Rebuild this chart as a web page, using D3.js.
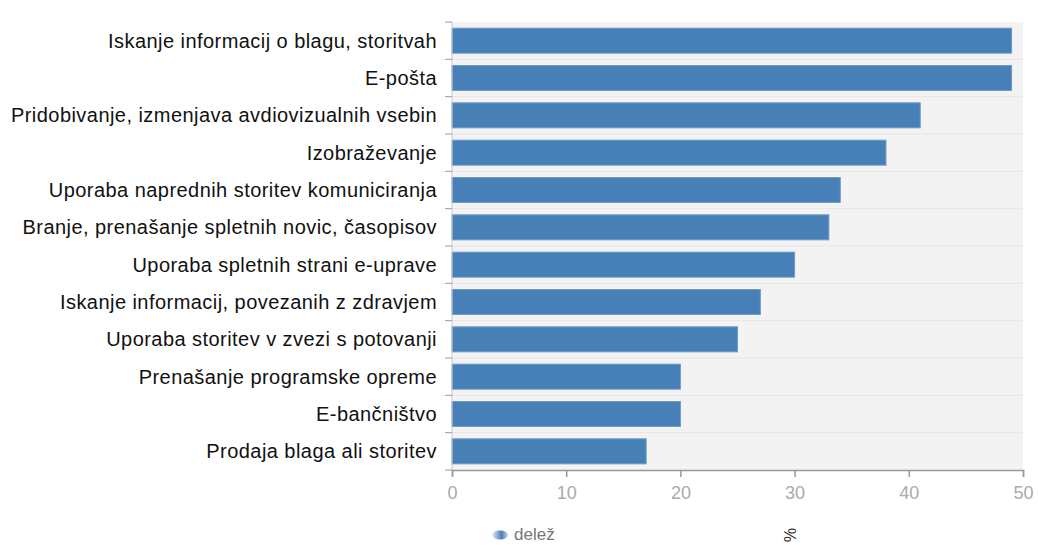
<!DOCTYPE html>
<html>
<head>
<meta charset="utf-8">
<script src="https://cdn.jsdelivr.net/npm/d3@7"></script>
<style>
  body { margin: 0; background: #fff; }
  text { font-family: "Liberation Sans", Arial, sans-serif; }
</style>
</head>
<body>
<main></main>
<script>
// Data
const categories = [
  "Iskanje informacij o blagu, storitvah",
  "E-pošta",
  "Pridobivanje, izmenjava avdiovizualnih vsebin",
  "Izobraževanje",
  "Uporaba naprednih storitev komuniciranja",
  "Branje, prenašanje spletnih novic, časopisov",
  "Uporaba spletnih strani e-uprave",
  "Iskanje informacij, povezanih z zdravjem",
  "Uporaba storitev v zvezi s potovanji",
  "Prenašanje programske opreme",
  "E-bančništvo",
  "Prodaja blaga ali storitev"
];
const values = [49, 49, 41, 38, 34, 33, 30, 27, 25, 20, 20, 17];
const xTicks = [0, 10, 20, 30, 40, 50];
const seriesName = "delež";
const unitLabel = "%";

// Dimensions
const width = 1038;
const height = 545;
const margin = { top: 22, right: 15, bottom: 75, left: 452 };

const svg = d3.select("main")
  .append("svg")
  .attr("width", width)
  .attr("height", height);

// Scales
const xScale = d3.scaleLinear()
  .domain([0, 50])
  .range([margin.left, width - margin.right]);

const yScale = d3.scaleBand()
  .domain(categories)
  .range([margin.top, height - margin.bottom])
  .paddingInner(0.33)
  .paddingOuter(0.165);

// Plot background
svg.append("rect")
  .attr("x", margin.left)
  .attr("y", margin.top)
  .attr("width", width - margin.right - margin.left)
  .attr("height", height - margin.bottom - margin.top)
  .attr("fill", "#f3f3f3");

// faint row lines
const step = yScale.step();
svg.selectAll(".row-line")
  .data(categories.slice(1))
  .enter()
  .append("line")
  .attr("x1", margin.left)
  .attr("x2", width - margin.right)
  .attr("y1", d => yScale(d) - yScale.paddingInner() * step / 2)
  .attr("y2", d => yScale(d) - yScale.paddingInner() * step / 2)
  .attr("stroke", "#e6e6e6");

// Bars
svg.selectAll(".bar")
  .data(values)
  .enter()
  .append("rect")
  .attr("class", "bar")
  .attr("x", xScale(0))
  .attr("y", (d, i) => yScale(categories[i]))
  .attr("width", d => xScale(d) - xScale(0))
  .attr("height", yScale.bandwidth())
  .attr("fill", "#4680b6")
  .attr("stroke", "#6d9dcb")
  .attr("stroke-width", 1);

// Y axis (ticks at band edges)
const yAxisG = svg.append("g");
yAxisG.append("line")
  .attr("x1", margin.left).attr("x2", margin.left)
  .attr("y1", margin.top).attr("y2", height - margin.bottom)
  .attr("stroke", "#c8c8c8");
const edges = d3.range(categories.length + 1).map(i => margin.top + i * step);
yAxisG.selectAll(".ytick")
  .data(edges)
  .enter()
  .append("line")
  .attr("x1", margin.left - 7)
  .attr("x2", margin.left)
  .attr("y1", d => d)
  .attr("y2", d => d)
  .attr("stroke", "#999");

yAxisG.selectAll(".ylabel")
  .data(categories)
  .enter()
  .append("text")
  .attr("x", margin.left - 15)
  .attr("y", d => yScale(d) + yScale.bandwidth() / 2)
  .attr("dy", "0.35em")
  .attr("text-anchor", "end")
  .attr("font-size", 20)
  .attr("letter-spacing", 0.45)
  .attr("fill", "#111")
  .text(d => d);

// X axis
const xAxis = d3.axisBottom(xScale)
  .tickValues(xTicks)
  .tickSize(7)
  .tickPadding(9);

const xAxisG = svg.append("g")
  .attr("transform", `translate(0,${height - margin.bottom})`)
  .call(xAxis);
xAxisG.select(".domain").attr("stroke", "#999").attr("stroke-width", 1.5);
xAxisG.selectAll(".tick line").attr("stroke", "#999").attr("stroke-width", 1.5);
xAxisG.selectAll(".tick text")
  .attr("fill", "#aaa")
  .attr("font-size", 18)
  .attr("font-family", "'Liberation Sans', Arial, sans-serif");

// Legend
const legend = svg.append("g").attr("transform", "translate(500,535)");
const grad = svg.append("defs").append("linearGradient")
  .attr("id", "lg").attr("x1", "0").attr("x2", "1");
grad.append("stop").attr("offset", "0").attr("stop-color", "#e8eef5");
grad.append("stop").attr("offset", "0.6").attr("stop-color", "#4a7fb3");
grad.append("stop").attr("offset", "1").attr("stop-color", "#c8d8e8");
legend.append("ellipse")
  .attr("cx", 0).attr("cy", 0)
  .attr("rx", 8).attr("ry", 4.5)
  .attr("fill", "url(#lg)");
legend.append("text")
  .attr("x", 14)
  .attr("y", 0)
  .attr("dy", "0.32em")
  .attr("font-size", 17)
  .attr("fill", "#777")
  .text(seriesName);

// Axis unit label
svg.append("text")
  .attr("transform", "translate(790,535) rotate(90)")
  .attr("text-anchor", "middle")
  .attr("dy", "0.35em")
  .attr("font-size", 16)
  .attr("fill", "#333")
  .text(unitLabel);
</script>
</body>
</html>
